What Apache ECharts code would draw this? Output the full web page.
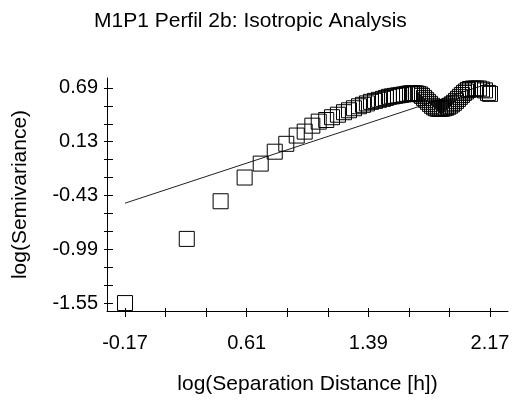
<!DOCTYPE html>
<html>
<head>
<meta charset="utf-8">
<script src="https://cdn.jsdelivr.net/npm/echarts@6/dist/echarts.min.js"></script>
<style>html,body{margin:0;padding:0;background:#fff}#c{width:514px;height:400px}</style>
</head>
<body>
<div id="c"></div>
<script>
// log(h) of each lag (x) and log(semivariance) (y)
var logLag = [-0.17, 0.226, 0.443, 0.597, 0.700, 0.790, 0.864, 0.931, 0.982, 1.031, 1.072, 1.120,
  1.157, 1.195, 1.234, 1.266, 1.298, 1.330, 1.356, 1.381, 1.407, 1.433, 1.458, 1.484, 1.503, 1.522,
  1.542, 1.561, 1.580, 1.599, 1.618, 1.638, 1.657, 1.670, 1.683, 1.695, 1.708, 1.721, 1.734, 1.747,
  1.759, 1.772, 1.785, 1.798, 1.811, 1.824, 1.836, 1.849, 1.862, 1.875, 1.888, 1.901, 1.913, 1.926,
  1.939, 1.952, 1.965, 1.977, 1.990, 2.003, 2.016, 2.029, 2.042, 2.061, 2.080, 2.099, 2.119, 2.138,
  2.157, 2.170];
var logSemivar = [-1.55, -0.882, -0.490, -0.243, -0.098, 0.026, 0.108, 0.194, 0.235, 0.297, 0.339, 0.356,
  0.385, 0.411, 0.437, 0.457, 0.478, 0.499, 0.514, 0.529, 0.545, 0.555, 0.566, 0.576, 0.586, 0.597,
  0.602, 0.607, 0.612, 0.617, 0.622, 0.628, 0.633, 0.633, 0.633, 0.633, 0.628, 0.622, 0.607, 0.586,
  0.566, 0.545, 0.524, 0.504, 0.488, 0.478, 0.473, 0.473, 0.473, 0.478, 0.483, 0.493, 0.504, 0.519,
  0.535, 0.555, 0.576, 0.597, 0.617, 0.638, 0.653, 0.669, 0.679, 0.684, 0.684, 0.684, 0.674, 0.664,
  0.638, 0.628];
// fitted line end points
var fitX = [-0.17, 2.17];
var fitY = [-0.51, 0.74];
// axis ticks and labels
var xTicks = [-0.17, 0.09, 0.35, 0.61, 0.87, 1.13, 1.39, 1.65, 1.91, 2.17];
var xLabels = [-0.17, 0.61, 1.39, 2.17];
var yTicks = [-1.55, -1.3633, -1.1767, -0.99, -0.8033, -0.6167, -0.43, -0.2433, -0.0567, 0.13, 0.3167, 0.5033, 0.69];
var yLabels = [-1.55, -0.99, -0.43, 0.13, 0.69];

var pts = logLag.map(function (x, i) { return [x, logSemivar[i]]; });
var fit = fitX.map(function (x, i) { return [x, fitY[i]]; });

var FONT = 'Liberation Sans, Arial, sans-serif';
var xMin = -0.2854, xMax = 2.2854, yMin = -1.6326, yMax = 0.7932;

var chart = echarts.init(document.getElementById('c'), null, {renderer: 'canvas'});
chart.setOption({
  animation: false,
  backgroundColor: '#fff',
  title: {
    text: 'M1P1 Perfil 2b: Isotropic Analysis',
    left: 89, top: 6,
    textStyle: {fontFamily: FONT, fontSize: 21, fontWeight: 'normal', color: '#000'}
  },
  grid: {left: 107, right: 6, top: 78, bottom: 87, containLabel: false},
  xAxis: [{
    type: 'value', position: 'bottom', min: xMin, max: xMax,
    name: 'log(Separation Distance [h])', nameLocation: 'middle', nameGap: 63,
    nameTextStyle: {fontFamily: FONT, fontSize: 21, color: '#000'},
    axisLine: {show: true, onZero: false, lineStyle: {color: '#000', width: 1}},
    axisTick: {show: true, inside: false, length: 6, customValues: xTicks, lineStyle: {color: '#000'}},
    axisLabel: {show: true, customValues: xLabels, margin: 22, fontFamily: FONT, fontSize: 20, color: '#000',
      formatter: function (v) { return v.toFixed(2); }},
    splitLine: {show: false}
  }, {
    type: 'value', position: 'bottom', offset: 0, min: xMin, max: xMax,
    axisLine: {show: false, onZero: false},
    axisTick: {show: true, inside: true, length: 3, customValues: xTicks, lineStyle: {color: '#000'}},
    axisLabel: {show: false}, splitLine: {show: false}
  }],
  yAxis: [{
    type: 'value', position: 'left', min: yMin, max: yMax,
    name: 'log(Semivariance)', nameLocation: 'middle', nameGap: 76, nameRotate: 90,
    nameTextStyle: {fontFamily: FONT, fontSize: 21, color: '#000'},
    axisLine: {show: true, onZero: false, lineStyle: {color: '#000', width: 1}},
    axisTick: {show: true, inside: false, length: 3, customValues: yTicks, lineStyle: {color: '#000'}},
    axisLabel: {show: true, customValues: yLabels, margin: 9, fontFamily: FONT, fontSize: 20, color: '#000',
      formatter: function (v) { return v.toFixed(2); }},
    splitLine: {show: false}
  }, {
    type: 'value', position: 'left', offset: 0, min: yMin, max: yMax,
    axisLine: {show: false, onZero: false},
    axisTick: {show: true, inside: true, length: 6, customValues: yTicks, lineStyle: {color: '#000'}},
    axisLabel: {show: false}, splitLine: {show: false}
  }],
  series: [{
    type: 'line', data: fit, xAxisIndex: 0, yAxisIndex: 0,
    symbol: 'none', lineStyle: {color: '#222', width: 1}, z: 2
  }, {
    type: 'scatter', data: pts, xAxisIndex: 0, yAxisIndex: 0,
    symbol: 'rect', symbolSize: 15,
    itemStyle: {color: 'rgba(0,0,0,0)', borderColor: '#000', borderWidth: 1, opacity: 1},
    emphasis: {disabled: true}, z: 3
  }]
});
</script>
</body>
</html>
